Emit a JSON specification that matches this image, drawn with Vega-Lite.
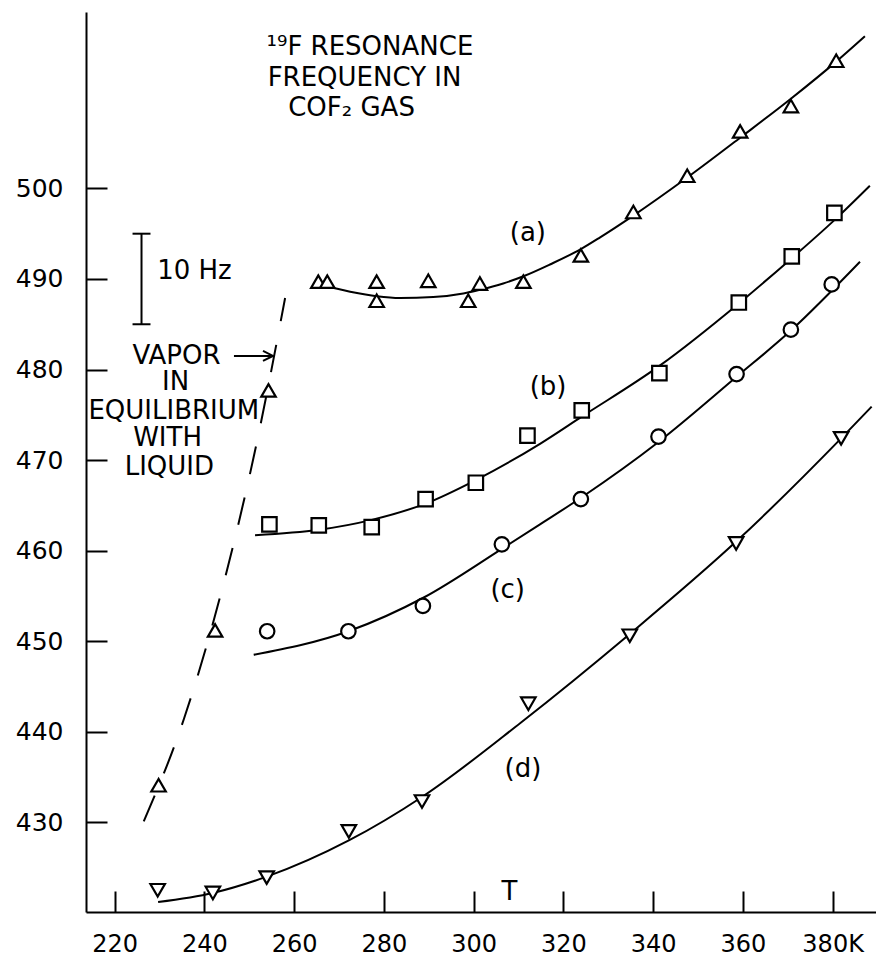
{
  "$schema": "https://vega.github.io/schema/vega-lite/v6.json",
  "width": 790,
  "height": 900,
  "autosize": "none",
  "padding": {"left": 86, "top": 12, "right": 0, "bottom": 47},
  "background": "white",
  "config": {
    "view": {"stroke": null},
    "font": "DejaVu Sans",
    "axis": {
      "grid": false,
      "title": null,
      "domainColor": "black",
      "domainWidth": 2,
      "tickColor": "black",
      "tickWidth": 2,
      "tickSize": -21,
      "labelColor": "black",
      "labelFont": "DejaVu Sans",
      "labelFontSize": 25,
      "labelFlush": false,
      "labelOverlap": false
    }
  },
  "datasets": {
    "points": [
      {"series": "a", "T": 265.4, "F": 489.7},
      {"series": "a", "T": 267.4, "F": 489.7},
      {"series": "a", "T": 278.4, "F": 489.7},
      {"series": "a", "T": 278.4, "F": 487.6},
      {"series": "a", "T": 289.9, "F": 489.8},
      {"series": "a", "T": 298.8, "F": 487.6},
      {"series": "a", "T": 301.4, "F": 489.5},
      {"series": "a", "T": 311.1, "F": 489.7},
      {"series": "a", "T": 323.9, "F": 492.6},
      {"series": "a", "T": 335.6, "F": 497.4},
      {"series": "a", "T": 347.6, "F": 501.4},
      {"series": "a", "T": 359.4, "F": 506.3},
      {"series": "a", "T": 370.7, "F": 509.1},
      {"series": "a", "T": 380.8, "F": 514.1},
      {"series": "vapor", "T": 229.8, "F": 434.1},
      {"series": "vapor", "T": 242.4, "F": 451.2},
      {"series": "vapor", "T": 254.3, "F": 477.7},
      {"series": "b", "T": 254.5, "F": 462.9},
      {"series": "b", "T": 265.5, "F": 462.8},
      {"series": "b", "T": 277.3, "F": 462.6},
      {"series": "b", "T": 289.3, "F": 465.7},
      {"series": "b", "T": 300.5, "F": 467.5},
      {"series": "b", "T": 312.0, "F": 472.7},
      {"series": "b", "T": 324.1, "F": 475.5},
      {"series": "b", "T": 341.4, "F": 479.6},
      {"series": "b", "T": 359.1, "F": 487.4},
      {"series": "b", "T": 370.9, "F": 492.5},
      {"series": "b", "T": 380.4, "F": 497.3},
      {"series": "c", "T": 254.0, "F": 451.1},
      {"series": "c", "T": 272.1, "F": 451.1},
      {"series": "c", "T": 288.7, "F": 453.9},
      {"series": "c", "T": 306.3, "F": 460.7},
      {"series": "c", "T": 323.9, "F": 465.7},
      {"series": "c", "T": 341.2, "F": 472.6},
      {"series": "c", "T": 358.6, "F": 479.5},
      {"series": "c", "T": 370.7, "F": 484.4},
      {"series": "c", "T": 379.8, "F": 489.4},
      {"series": "d", "T": 229.6, "F": 422.5},
      {"series": "d", "T": 241.9, "F": 422.2},
      {"series": "d", "T": 253.9, "F": 423.9},
      {"series": "d", "T": 272.2, "F": 429.0},
      {"series": "d", "T": 288.5, "F": 432.3},
      {"series": "d", "T": 312.2, "F": 443.1},
      {"series": "d", "T": 334.8, "F": 450.6},
      {"series": "d", "T": 358.5, "F": 460.8},
      {"series": "d", "T": 381.9, "F": 472.4}
    ],
    "curves": [
      {"series": "a", "T": 266.2, "F": 489.3},
      {"series": "a", "T": 272.5, "F": 488.6},
      {"series": "a", "T": 278.4, "F": 488.1},
      {"series": "a", "T": 283.6, "F": 487.9},
      {"series": "a", "T": 291.0, "F": 488.0},
      {"series": "a", "T": 297.7, "F": 488.4},
      {"series": "a", "T": 301.4, "F": 488.8},
      {"series": "a", "T": 306.6, "F": 489.5},
      {"series": "a", "T": 311.1, "F": 490.3},
      {"series": "a", "T": 317.0, "F": 491.6},
      {"series": "a", "T": 323.9, "F": 493.3},
      {"series": "a", "T": 328.2, "F": 494.6},
      {"series": "a", "T": 335.6, "F": 497.0},
      {"series": "a", "T": 347.6, "F": 501.2},
      {"series": "a", "T": 359.4, "F": 505.6},
      {"series": "a", "T": 370.7, "F": 509.9},
      {"series": "a", "T": 380.8, "F": 514.0},
      {"series": "a", "T": 387.2, "F": 516.8},
      {"series": "b", "T": 251.3, "F": 461.7},
      {"series": "b", "T": 265.5, "F": 462.3},
      {"series": "b", "T": 277.3, "F": 463.4},
      {"series": "b", "T": 289.3, "F": 465.2},
      {"series": "b", "T": 300.5, "F": 467.8},
      {"series": "b", "T": 314.8, "F": 471.8},
      {"series": "b", "T": 324.1, "F": 474.8},
      {"series": "b", "T": 341.4, "F": 480.4},
      {"series": "b", "T": 359.1, "F": 487.3},
      {"series": "b", "T": 370.9, "F": 492.3},
      {"series": "b", "T": 380.4, "F": 496.5},
      {"series": "b", "T": 388.3, "F": 500.3},
      {"series": "c", "T": 251.0, "F": 448.5},
      {"series": "c", "T": 272.1, "F": 451.1},
      {"series": "c", "T": 288.8, "F": 454.8},
      {"series": "c", "T": 306.3, "F": 460.2},
      {"series": "c", "T": 314.8, "F": 462.9},
      {"series": "c", "T": 324.1, "F": 465.9},
      {"series": "c", "T": 341.2, "F": 472.0},
      {"series": "c", "T": 358.6, "F": 479.2},
      {"series": "c", "T": 370.7, "F": 484.3},
      {"series": "c", "T": 386.1, "F": 491.9},
      {"series": "d", "T": 229.7, "F": 421.2},
      {"series": "d", "T": 241.9, "F": 422.2},
      {"series": "d", "T": 253.9, "F": 424.0},
      {"series": "d", "T": 272.2, "F": 428.0},
      {"series": "d", "T": 288.5, "F": 432.8},
      {"series": "d", "T": 310.5, "F": 441.0},
      {"series": "d", "T": 334.8, "F": 450.8},
      {"series": "d", "T": 358.5, "F": 461.0},
      {"series": "d", "T": 381.9, "F": 472.4},
      {"series": "d", "T": 388.7, "F": 475.9}
    ],
    "vapor_line": [
      {"T": 226.5, "F": 430.1},
      {"T": 235.5, "F": 441.5},
      {"T": 244.3, "F": 456.4},
      {"T": 251.5, "F": 471.5},
      {"T": 258.0, "F": 487.9}
    ],
    "title_lines": [
      {"text": "¹⁹F RESONANCE", "T": 276.9, "F": 515.6},
      {"text": "FREQUENCY IN", "T": 275.7, "F": 512.2},
      {"text": "COF₂ GAS", "T": 272.8, "F": 508.9}
    ],
    "labels": [
      {"text": "10 Hz", "T": 237.8, "F": 490.9},
      {"text": "VAPOR", "T": 233.8, "F": 481.5},
      {"text": "IN", "T": 233.6, "F": 478.6},
      {"text": "EQUILIBRIUM", "T": 233.2, "F": 475.4},
      {"text": "WITH", "T": 231.8, "F": 472.4},
      {"text": "LIQUID", "T": 232.2, "F": 469.2},
      {"text": "(a)", "T": 312.1, "F": 495.1},
      {"text": "(b)", "T": 316.6, "F": 478.1},
      {"text": "(c)", "T": 307.6, "F": 455.7},
      {"text": "(d)", "T": 311.0, "F": 435.9},
      {"text": "T", "T": 308.0, "F": 422.3}
    ],
    "vrules": [
      {"T": 226.0, "F": 485.0, "F2": 495.0}
    ],
    "hrules": [
      {"T": 224.0, "T2": 228.0, "F": 495.0},
      {"T": 224.0, "T2": 228.0, "F": 485.0},
      {"T": 246.6, "T2": 255.2, "F": 481.5}
    ],
    "arrowhead": [
      {"T": 255.3, "F": 481.5}
    ]
  },
  "encoding": {
    "x": {
      "field": "T",
      "type": "quantitative",
      "scale": {"domain": [213.63, 389.67], "nice": false, "zero": false},
      "axis": {
        "values": [220, 240, 260, 280, 300, 320, 340, 360, 380],
        "labelExpr": "datum.value == 380 ? '  380K' : datum.label",
        "labelPadding": 41,
        "labelFontSize": 24,
        "labelBaseline": "top"
      }
    },
    "y": {
      "field": "F",
      "type": "quantitative",
      "scale": {"domain": [420.1, 519.48], "nice": false, "zero": false},
      "axis": {
        "values": [430, 440, 450, 460, 470, 480, 490, 500],
        "labelPadding": 44
      }
    }
  },
  "layer": [
    {
      "data": {"name": "curves"},
      "mark": {"type": "line", "color": "black", "strokeWidth": 2, "interpolate": "monotone"},
      "encoding": {"detail": {"field": "series", "type": "nominal"}}
    },
    {
      "data": {"name": "vapor_line"},
      "mark": {"type": "line", "color": "black", "strokeWidth": 2, "interpolate": "monotone", "strokeDash": [28, 24]},
      "encoding": {}
    },
    {
      "data": {"name": "points"},
      "mark": {"type": "point", "filled": true, "fill": "white", "stroke": "black", "strokeWidth": 2.2, "size": 210, "opacity": 1},
      "encoding": {
        "shape": {
          "field": "series",
          "type": "nominal",
          "scale": {"domain": ["a", "b", "c", "d", "vapor"], "range": ["triangle-up", "square", "circle", "triangle-down", "triangle-up"]},
          "legend": null
        }
      }
    },
    {
      "data": {"name": "vrules"},
      "mark": {"type": "rule", "color": "black", "strokeWidth": 2},
      "encoding": {"y2": {"field": "F2"}}
    },
    {
      "data": {"name": "hrules"},
      "mark": {"type": "rule", "color": "black", "strokeWidth": 2},
      "encoding": {"x2": {"field": "T2"}}
    },
    {
      "data": {"name": "arrowhead"},
      "mark": {"type": "point", "shape": "M-1,-0.5L0,0L-1,0.5", "filled": false, "stroke": "black", "strokeWidth": 2, "size": 400, "opacity": 1},
      "encoding": {}
    },
    {
      "data": {"name": "title_lines"},
      "mark": {"type": "text", "font": "DejaVu Sans", "fontSize": 26, "color": "black", "align": "center", "baseline": "middle"},
      "encoding": {"text": {"field": "text", "type": "nominal"}}
    },
    {
      "data": {"name": "labels"},
      "mark": {"type": "text", "font": "DejaVu Sans", "fontSize": 26, "color": "black", "align": "center", "baseline": "middle"},
      "encoding": {"text": {"field": "text", "type": "nominal"}}
    }
  ]
}
